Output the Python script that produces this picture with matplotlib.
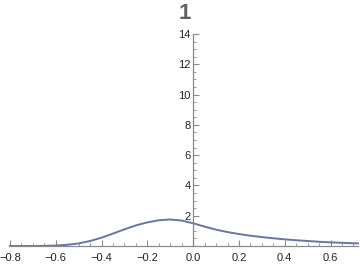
import matplotlib
matplotlib.use("Agg")
import matplotlib.pyplot as plt
from matplotlib.ticker import MultipleLocator, FuncFormatter

# curve
xs = [-0.8, -0.75, -0.7, -0.65, -0.6, -0.55, -0.5, -0.45, -0.4, -0.35, -0.3,
      -0.25, -0.2, -0.15, -0.1, -0.05, 0.0, 0.05, 0.1, 0.15, 0.2, 0.25, 0.3,
      0.35, 0.4, 0.45, 0.5, 0.55, 0.6, 0.65, 0.7, 0.72]
ys = [0.0, 0.0, 0.0, 0.01, 0.03, 0.08, 0.17, 0.33, 0.55, 0.82, 1.1,
      1.36, 1.56, 1.70, 1.75, 1.68, 1.5, 1.28, 1.08, 0.92, 0.79, 0.68, 0.59,
      0.51, 0.44, 0.38, 0.33, 0.28, 0.24, 0.21, 0.18, 0.17]
title = "1"
x_major = [-0.8, -0.6, -0.4, -0.2, 0.0, 0.2, 0.4, 0.6]
y_major = [2, 4, 6, 8, 10, 12, 14]

plt.rcParams['font.family'] = ['Liberation Sans', 'DejaVu Sans']

fig = plt.figure(figsize=(3.6, 2.66), dpi=100)
ax = fig.add_axes([10 / 360, 1 - 246 / 266, 348 / 360, (246 - 34) / 266])

ax.plot(xs, ys, color="#6a74a8", linewidth=1.4, clip_on=False)

ax.set_xlim(-0.8, 0.72)
ax.set_ylim(0, 14)

ax.spines['left'].set_position(('data', 0))
ax.spines['bottom'].set_position(('data', 0))
ax.spines['top'].set_visible(False)
ax.spines['right'].set_visible(False)
for s in ['left', 'bottom']:
    ax.spines[s].set_color("#8a8a8a")
    ax.spines[s].set_linewidth(0.9)

ax.set_xticks(x_major)
ax.set_yticks(y_major)
ax.xaxis.set_major_formatter(FuncFormatter(lambda v, p: f"{v:.1f}".replace("-", "\u2212")))
ax.xaxis.set_minor_locator(MultipleLocator(0.05))
ax.yaxis.set_minor_locator(MultipleLocator(0.5))
ax.tick_params(axis='both', which='major', direction='in', length=4,
               width=0.8, color="#8a8a8a", labelsize=8, labelcolor="#222222")
ax.tick_params(axis='both', which='minor', direction='in', length=2,
               width=0.6, color="#8a8a8a")
ax.tick_params(axis='x', pad=5)
ax.tick_params(axis='y', pad=2)
ax.set_facecolor('white')

fig.text(185 / 360, 1 - 14 / 266, title, ha='center', va='center',
         fontsize=16, fontweight='bold', color="#606060")

fig.savefig("out.png", dpi=100)
